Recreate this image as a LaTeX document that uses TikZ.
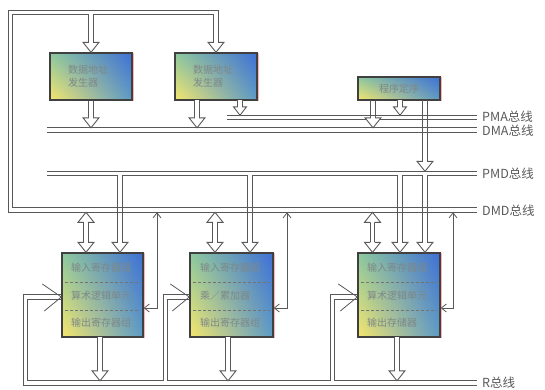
\documentclass[tikz,border=0pt]{standalone}
\usepackage{fontspec}
\setmainfont{Noto Sans CJK SC}
\usetikzlibrary{arrows.meta,shadings}
\definecolor{lc}{HTML}{585858}
\definecolor{cul}{HTML}{8CC89E}
\definecolor{cur}{HTML}{3F6FD6}
\definecolor{cll}{HTML}{F6E66C}
\definecolor{clr}{HTML}{5C9CC6}
\definecolor{bd}{HTML}{404040}
\definecolor{tx}{HTML}{7E8888}
\begin{document}
\begin{tikzpicture}[x=1pt,y=-1pt,
  bus/.style={draw=lc, line width=0.9pt, double=white, double distance=3.4pt},
  pair/.style={draw=none,
    postaction={draw=lc, line width=0.9pt, transform canvas={xshift=-2.15pt}},
    postaction={draw=lc, line width=0.9pt, transform canvas={xshift=2.15pt}}},
  thinl/.style={draw=lc, line width=0.8pt},
  tarrow/.style={thinl, {Straight Barb[length=5pt,width=8pt]}-{Straight Barb[length=5pt,width=8pt]}},
  unit/.style={draw=bd, line width=1.4pt, upper left=cul, upper right=cur,
    lower left=cll, lower right=clr, inner sep=0pt},
  utext/.style={text=tx, font=\fontsize{10}{13}\selectfont, anchor=west, inner sep=0pt},
  blabel/.style={text=black!65, font=\fontsize{12.5}{14}\selectfont, anchor=west, inner sep=0pt},
  sepline/.style={draw=black!55, line width=0.7pt, dash pattern=on 3pt off 2pt},
  vhead/.style={thinl},
  hd/.pic={\path[fill=white] (-8,-10) -- (0,0) -- (8,-10) -- cycle;
    \draw[thinl, line width=0.9pt] (-2.15,-10) -- (-8,-10) -- (0,0) -- (8,-10) -- (2.15,-10);},
  shd/.pic={\path[fill=white] (-6.5,-8.5) -- (0,0) -- (6.5,-8.5) -- cycle;
    \draw[thinl, line width=0.9pt] (-2.15,-8.5) -- (-6.5,-8.5) -- (0,0) -- (6.5,-8.5) -- (2.15,-8.5);}
]
\useasboundingbox (0,0) rectangle (545,389);

% ---------- buses ----------
\draw[bus] (227,117.5) -- (477,117.5);
\draw[bus] (47,130) -- (477,130);
\draw[bus] (47,173.5) -- (477,173.5)
  (120,173.5) -- (120,242.3) (250,173.5) -- (250,242.3)
  (400,173.5) -- (400,242.3) (425,173.5) -- (425,242.3);
\draw[bus] (477,210) -- (10.5,210) -- (10.5,12.5) -- (216,12.5) -- (216,42.3)
  (91,12.5) -- (91,42.3);
\foreach \x in {120,250,400,425} \draw[pair] (\x,205) -- (\x,215);
\draw[bus] (477,383) -- (25.5,383) -- (25.5,297) -- (62,297)
  (165.5,383) -- (165.5,297) -- (190,297)
  (332.5,383) -- (332.5,297) -- (358,297);

% ---------- units ----------
\node[unit, minimum width=82pt, minimum height=47pt] (g1) at (91,76.5) {};
\node[unit, minimum width=82pt, minimum height=47pt] (g2) at (216,76.5) {};
\node[unit, minimum width=82pt, minimum height=23pt, text=tx,
  font=\fontsize{10}{12}\selectfont] (s) at (399,88.5) {程序定序};
\node[utext, align=left] (g1t) at (68,76.5) {数据地址\\发生器};
\node[utext, align=left] (g2t) at (193,76.5) {数据地址\\发生器};

\node[unit, minimum width=81pt, minimum height=84pt] (u1) at (102.5,295) {};
\node[unit, minimum width=83pt, minimum height=84pt] (u2) at (231.5,295) {};
\node[unit, minimum width=82pt, minimum height=84pt] (u3) at (399,295) {};
\foreach \n in {g1,g2,s,u1,u2,u3}
  \draw[red!30, line width=0.6pt] ([xshift=1pt,yshift=-1pt]\n.north east) -- ([xshift=1pt]\n.south east);

\foreach \a/\b in {65/140,193/270,361/437} {
  \draw[sepline] (\a,282) -- (\b,282);
  \draw[sepline] (\a,310) -- (\b,310);
}
\node[utext] (u1a) at (71,267.5) {输入寄存器组};
\node[utext] (u1b) at (71,296) {算术逻辑单元};
\node[utext] (u1c) at (71,323) {输出寄存器组};
\node[utext] (u2a) at (200,267.5) {输入寄存器组};
\node[utext] (u2b) at (200,296) {乘／累加器};
\node[utext] (u2c) at (200,323) {输出寄存器组};
\node[utext] (u3a) at (367,267.5) {输入寄存器组};
\node[utext] (u3b) at (367,296) {算术逻辑单元};
\node[utext] (u3c) at (367,323) {输出存储器};

% ---------- shafts ----------
\draw[bus] (g1.south) -- (91,117.8);
\draw[bus] (197,100) -- (197,117.8);
\draw[bus] (240,100) -- (240,106.8);
\draw[bus] (400,100) -- (400,106.8);
\draw[pair] (373,100) -- (373,117.8);
\draw[pair] (425,100) -- (425,161.3);
\foreach \x in {86,215,372.5} \draw[bus] (\x,222.3) -- (\x,242.3);
\draw[bus] (100,337) -- (100,370.8);
\draw[bus] (228,337) -- (228,370.8);
\draw[bus] (397,337) -- (397,370.8);

% ---------- heads ----------
\foreach \x/\y in {91/52.3,216/52.3,91/127.8,197/127.8,373/127.8,425/171.3,
  120/252.3,250/252.3,400/252.3,425/252.3,86/252.3,215/252.3,372.5/252.3,
  100/380.8,228/380.8,397/380.8}
  \pic at (\x,\y) {hd};
\foreach \x in {86,215,372.5} \pic[rotate=180] at (\x,212.3) {hd};
\pic at (240,115.3) {shd};
\pic at (400,115.3) {shd};

% ---------- open V heads into the units ----------
\foreach \n in {u1,u2,u3}
  \draw[vhead] (\n.west |- 0,297) ++(-19,-13) -- (\n.west |- 0,297) -- ++(-17,14);

% ---------- thin two-way links ----------
\draw[tarrow] (157,212.3) -- (157,308) -- (u1.east |- 0,308);
\draw[tarrow] (287,212.3) -- (287,308) -- (u2.east |- 0,308);
\draw[tarrow] (453,212.3) -- (453,308) -- (u3.east |- 0,308);

% ---------- labels ----------
\node[blabel] (lpma) at (482,117) {PMA总线};
\node[blabel] (ldma) at (482,130.5) {DMA总线};
\node[blabel] (lpmd) at (482,173.5) {PMD总线};
\node[blabel] (ldmd) at (482,211) {DMD总线};
\node[blabel] (lr) at (482,383) {R总线};
\end{tikzpicture}
\end{document}
